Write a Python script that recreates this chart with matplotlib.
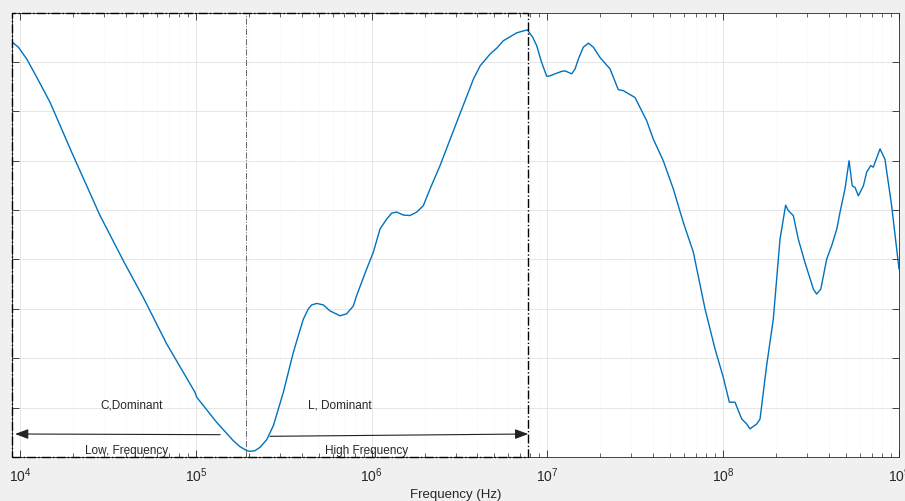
import matplotlib
matplotlib.use("Agg")
import matplotlib.pyplot as plt
from matplotlib.patches import Rectangle
from matplotlib.ticker import LogLocator, NullFormatter, NullLocator

plt.rcParams["font.family"] = ["Liberation Sans", "DejaVu Sans"]
plt.rcParams["mathtext.default"] = "regular"

# Measured response (frequency in Hz, magnitude in grid units)
freq = [
    9.04e3, 9.78e3, 1.092e4, 1.245e4, 1.483e4, 1.968e4, 2.851e4, 3.955e4,
    5.024e4, 6.828e4, 9.89e4, 1.012e5, 1.315e5, 1.634e5, 1.782e5, 1.949e5,
    2.034e5, 2.17e5, 2.318e5, 2.53e5, 2.76e5, 3.146e5, 3.587e5, 3.83e5,
    4.086e5, 4.365e5, 4.56e5, 4.873e5, 5.31e5, 5.79e5, 6.607e5, 7.21e5,
    7.871e5, 8.22e5, 9.376e5, 1.023e6, 1.117e6, 1.219e6, 1.301e6, 1.39e6,
    1.515e6, 1.653e6, 1.805e6, 1.968e6, 2.15e6, 2.449e6, 3.048e6, 3.79e6,
    4.14e6, 4.717e6, 5.15e6, 5.614e6, 6.687e6, 7.15e6, 7.69e6, 8.25e6,
    8.69e6, 9.27e6, 9.91e6, 1.035e7, 1.105e7, 1.206e7, 1.259e7, 1.375e7,
    1.437e7, 1.5e7, 1.6e7, 1.711e7, 1.824e7, 1.992e7, 2.27e7, 2.53e7,
    2.70e7, 3.15e7, 3.67e7, 4.0e7, 4.56e7, 5.20e7, 5.93e7, 6.76e7,
    7.88e7, 8.98e7, 1.0e8, 1.084e8, 1.167e8, 1.274e8, 1.36e8, 1.42e8,
    1.552e8, 1.62e8, 1.766e8, 1.927e8, 2.104e8, 2.265e8, 2.345e8, 2.505e8,
    2.674e8, 2.918e8, 3.257e8, 3.40e8, 3.59e8, 3.88e8, 4.14e8, 4.43e8,
    4.62e8, 4.93e8, 5.2e8, 5.42e8, 5.62e8, 5.87e8, 6.27e8, 6.55e8,
    6.90e8, 7.14e8, 7.80e8, 8.32e8, 9.08e8, 1.0e9,
]
mag = [
    8.40, 8.30, 8.06, 7.69, 7.18, 6.17, 4.89, 3.91,
    3.23, 2.29, 1.31, 1.21, 0.70, 0.33, 0.21, 0.128,
    0.115, 0.128, 0.196, 0.35, 0.634, 1.31, 2.12, 2.46,
    2.79, 3.00, 3.08, 3.11, 3.08, 2.96, 2.86, 2.90,
    3.06, 3.27, 3.81, 4.15, 4.62, 4.82, 4.94, 4.96,
    4.90, 4.89, 4.96, 5.09, 5.43, 5.90, 6.78, 7.65,
    7.92, 8.16, 8.28, 8.43, 8.59, 8.62, 8.65, 8.50,
    8.33, 7.99, 7.71, 7.72, 7.76, 7.81, 7.82, 7.76,
    7.86, 8.06, 8.30, 8.38, 8.30, 8.09, 7.86, 7.44,
    7.42, 7.28, 6.81, 6.44, 6.00, 5.43, 4.75, 4.15,
    3.00, 2.19, 1.62, 1.11, 1.11, 0.77, 0.67, 0.57,
    0.67, 0.77, 1.85, 2.79, 4.41, 5.10, 4.99, 4.89,
    4.41, 3.94, 3.40, 3.30, 3.40, 4.01, 4.28, 4.62,
    4.96, 5.43, 6.00, 5.49, 5.46, 5.29, 5.49, 5.77,
    5.90, 5.87, 6.24, 6.03, 5.09, 3.81,
]

# Region boundaries and annotations
f_split = 1.93e5
f_region_end = 7.78e6
low_arrow = [(1.374e5, 0.452), (9.37e3, 0.466)]
high_arrow = [(2.64e5, 0.419), (7.78e6, 0.466)]
labels = [
    ("C,Dominant", 4.31e4, 1.07),
    ("Low, Frequency", 4.05e4, 0.142),
    ("L, Dominant", 6.61e5, 1.07),
    ("High Frequency", 9.38e5, 0.142),
]

fig = plt.figure(figsize=(9.05, 5.02), dpi=100, facecolor="#f0f0f0")
ax = fig.add_axes([12 / 905, 44 / 502, 887 / 905, 444.4 / 502])
ax.set_facecolor("white")

ax.semilogx(freq, mag, color="#0072BD", lw=1.0, zorder=3)

ax.set_xlim(9.0e3, 1e9)
ax.set_ylim(0, 9)

# grid and ticks
ax.xaxis.set_major_locator(LogLocator(base=10, numticks=12))
ax.xaxis.set_minor_locator(LogLocator(base=10, subs=range(2, 10), numticks=12))
ax.xaxis.set_minor_formatter(NullFormatter())
ax.set_yticks(range(1, 9))
ax.set_yticklabels([])
ax.yaxis.set_minor_locator(NullLocator())
ax.grid(which="major", color="#e2e2e2", lw=0.6)
ax.grid(which="minor", axis="x", color="#ededed", lw=0.5, ls=(0, (1, 2)))
ax.set_axisbelow(True)
ax.tick_params(which="both", direction="in", top=True, right=True,
               colors="#262626", labelsize=10, pad=6)
ax.tick_params(which="major", length=5, width=0.6)
ax.tick_params(which="minor", length=3, width=0.5)
for s in ax.spines.values():
    s.set_color("#262626")
    s.set_linewidth(0.6)

ax.set_xlabel("Frequency (Hz)", fontsize=9.5, color="#262626", labelpad=3)

# dash-dot frame around the lower band and the split line
ax.add_patch(Rectangle((9.0e3, 0), f_region_end - 9.0e3, 9, fill=False,
                       ls="-.", lw=1.0, ec="black", zorder=4, clip_on=False))
ax.axvline(f_split, color="#666666", ls="-.", lw=0.7, zorder=2)

for start, end in (low_arrow, high_arrow):
    ax.annotate("", xy=end, xytext=start,
                arrowprops=dict(arrowstyle="-|>,head_length=0.8,head_width=0.3",
                                color="#222222", lw=0.8, shrinkA=0, shrinkB=0),
                zorder=5)

for text, x, y in labels:
    ax.text(x, y, text, ha="center", va="center", fontsize=8.5, color="#262626")

fig.savefig("out.png", dpi=100, facecolor=fig.get_facecolor())
